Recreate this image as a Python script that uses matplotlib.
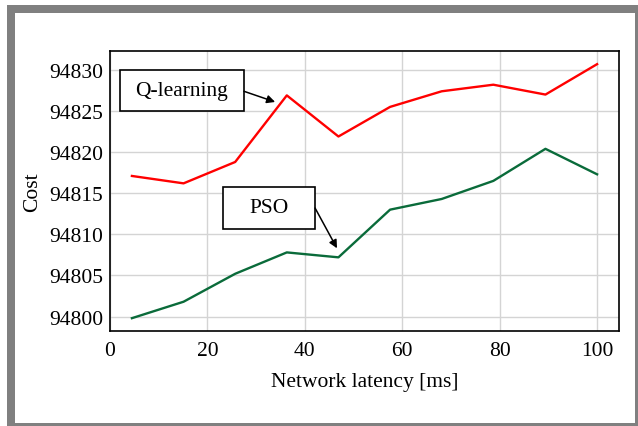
# Cost vs network latency: Q-learning vs PSO

import matplotlib.pyplot as plt
from matplotlib.patches import Rectangle

# =========================
# data
# =========================
latency = [4.5, 15.1, 25.7, 36.3, 46.9, 57.5, 68.1, 78.7, 89.4, 100.0]
cost_qlearning = [94817.1, 94816.2, 94818.8, 94826.9, 94821.9,
                  94825.5, 94827.4, 94828.2, 94827.0, 94830.7]
cost_pso = [94799.8, 94801.8, 94805.2, 94807.8, 94807.2,
            94813.0, 94814.3, 94816.5, 94820.4, 94817.3]
x_ticks = [0, 20, 40, 60, 80, 100]
y_ticks = [94800, 94805, 94810, 94815, 94820, 94825, 94830]

plt.rcParams["font.family"] = ["Liberation Serif", "DejaVu Serif"]
FS = 15.5

fig = plt.figure(figsize=(6.38, 4.27), dpi=100)
W, H = 638, 427

# gray frame round the figure (cropped on right/bottom)
gray = "#808080"
for (x0, y0, x1, y1) in [(7, 6, 15, 427), (7, 6, 638, 14),
                         (635, 6, 638, 427), (7, 424, 638, 427)]:
    fig.patches.append(Rectangle((x0 / W, 1 - y1 / H), (x1 - x0) / W, (y1 - y0) / H,
                                 transform=fig.transFigure, facecolor=gray,
                                 edgecolor="none", zorder=0))

ax = fig.add_axes([110 / W, 1 - 332 / H, 509 / W, 280 / H])

ax.plot(latency, cost_qlearning, color="#ff0000", lw=1.7, zorder=3)
ax.plot(latency, cost_pso, color="#0a6b3a", lw=1.7, zorder=3)

ax.set_xlim(0, 104.5)
ax.set_ylim(94798.24, 94832.3)
ax.set_xticks(x_ticks)
ax.set_yticks(y_ticks)
ax.tick_params(length=0, labelsize=FS)
ax.tick_params(axis="y", pad=5)
ax.tick_params(axis="x", pad=7)
ax.grid(True, color="#d4d4d4", lw=1)
ax.set_axisbelow(True)
for s in ax.spines.values():
    s.set_linewidth(1.2)
    s.set_color("black")

ax.set_xlabel("Network latency [ms]", fontsize=FS, labelpad=9)
ax.set_ylabel("Cost", fontsize=FS, labelpad=5)

# annotation boxes
def label_box(text, x0, x1, y0, y1, start, tip):
    ax.add_patch(Rectangle((x0, y0), x1 - x0, y1 - y0, facecolor="white",
                           edgecolor="black", lw=1.2, zorder=4))
    ax.text((x0 + x1) / 2, (y0 + y1) / 2, text, ha="center", va="center",
            fontsize=FS, zorder=5)
    ax.annotate("", xy=tip, xytext=start,
                arrowprops=dict(arrowstyle="-|>", color="black", lw=1.1,
                                mutation_scale=12, shrinkA=0, shrinkB=0),
                zorder=5)

label_box("Q-learning", 2.05, 27.5, 94824.95, 94829.94,
          (27.5, 94827.4), (33.9, 94826.1))
label_box("PSO", 23.2, 42.07, 94810.65, 94815.76,
          (42.1, 94813.2), (46.6, 94808.3))

plt.savefig("out.png", dpi=100)
